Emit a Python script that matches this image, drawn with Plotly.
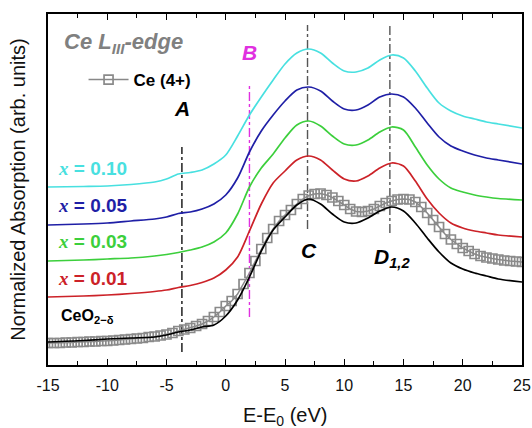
import numpy as np
import plotly.graph_objects as go

# ---------------- data ----------------
E = [-15, -12, -10, -8, -6, -5, -4, -3, -2, -1, 0, 1, 2, 3, 4, 5, 6, 7, 8, 9,
     10, 11, 12, 13, 14, 15, 16, 17, 18, 19, 20, 21, 22, 23, 25]

ceo2 = [0.23, 0.245, 0.26, 0.27, 0.28, 0.30, 0.33, 0.35, 0.38, 0.40, 0.49, 0.65, 0.88, 1.14,
        1.35, 1.48, 1.60, 1.66, 1.61, 1.51, 1.43, 1.42, 1.47, 1.54, 1.58, 1.54, 1.42, 1.27,
        1.13, 1.02, 0.96, 0.92, 0.89, 0.86, 0.83]
x001 = [0.68, 0.69, 0.70, 0.715, 0.735, 0.75, 0.775, 0.795, 0.825, 0.87, 0.95, 1.08, 1.34,
        1.61, 1.82, 1.94, 2.05, 2.09, 2.05, 1.95, 1.86, 1.84, 1.89, 1.97, 2.02, 1.99, 1.84,
        1.66, 1.52, 1.42, 1.37, 1.34, 1.32, 1.30, 1.28]
x003 = [1.04, 1.05, 1.06, 1.07, 1.09, 1.105, 1.125, 1.15, 1.18, 1.23, 1.32, 1.51, 1.78,
        1.97, 2.11, 2.27, 2.40, 2.44, 2.39, 2.29, 2.21, 2.20, 2.25, 2.33, 2.38, 2.35, 2.18,
        2.00, 1.86, 1.77, 1.73, 1.70, 1.68, 1.665, 1.65]
x005 = [1.40, 1.41, 1.42, 1.44, 1.46, 1.48, 1.515, 1.53, 1.56, 1.61, 1.70, 1.87, 2.13,
        2.34, 2.50, 2.64, 2.75, 2.78, 2.74, 2.64, 2.56, 2.55, 2.60, 2.68, 2.71, 2.68, 2.57,
        2.42, 2.28, 2.19, 2.14, 2.10, 2.07, 2.05, 2.01]
x010 = [1.78, 1.785, 1.79, 1.805, 1.83, 1.86, 1.91, 1.925, 1.95, 2.01, 2.10, 2.29, 2.50,
        2.68, 2.85, 3.01, 3.12, 3.16, 3.12, 3.02, 2.94, 2.93, 2.97, 3.05, 3.10, 3.07, 2.94,
        2.77, 2.62, 2.54, 2.49, 2.46, 2.43, 2.41, 2.37]

E_ref = [-15 + 0.5 * i for i in range(81)]
ce4 = [0.22, 0.22, 0.22, 0.225, 0.225, 0.23, 0.23, 0.235, 0.235, 0.24,
       0.24, 0.245, 0.25, 0.255, 0.26, 0.265, 0.27, 0.28, 0.285, 0.295,
       0.305, 0.32, 0.34, 0.355, 0.37, 0.39, 0.41, 0.44, 0.48, 0.53,
       0.59, 0.64, 0.71, 0.81, 0.92, 1.04, 1.16, 1.27, 1.36, 1.44,
       1.50, 1.55, 1.61, 1.66, 1.695, 1.71, 1.715, 1.70, 1.675, 1.64,
       1.60, 1.56, 1.535, 1.53, 1.54, 1.56, 1.59, 1.62, 1.64, 1.655,
       1.66, 1.655, 1.63, 1.58, 1.52, 1.45, 1.38, 1.31, 1.255, 1.21,
       1.17, 1.14, 1.11, 1.09, 1.075, 1.065, 1.055, 1.045, 1.04, 1.035, 1.03]

# reference markers (E position, y bottom, y top)
mark_names = ["A", "B", "C", "D"]
mark_E = [-3.7, 2.0, 6.9, 13.85]
mark_y0 = [0.13, 0.48, 1.36, 1.32]
mark_y1 = [2.18, 2.82, 3.40, 3.40]
mark_col = ["#111111", "#e030e0", "#555555", "#555555"]

x_ticks = [-15, -10, -5, 0, 5, 10, 15, 20, 25]
x_ticktext = ["-15", "-10", "-5", "0", "5", "10", "15", "20", "25"]

SANS = "Arial, 'Liberation Sans', sans-serif"

fig = go.Figure()

for nm, xe, y0, y1, c in zip(mark_names, mark_E, mark_y0, mark_y1, mark_col):
    fig.add_trace(go.Scatter(x=[xe, xe], y=[y0, y1], mode="lines",
                             line=dict(color=c, width=1.4, dash="dashdot"),
                             showlegend=False, hoverinfo="skip"))

fig.add_trace(go.Scatter(x=E_ref, y=ce4, mode="lines+markers", name="<b>Ce (4+)</b>",
                         line=dict(color="#888888", width=1.5),
                         marker=dict(symbol="square-open", size=9, color="#8a8a8a",
                                     line=dict(width=1.7)),
                         showlegend=True))

series = [(ceo2, "#000000"), (x001, "#cc2228"), (x003, "#3ccf3c"),
          (x005, "#1f1fa6"), (x010, "#48e0e0")]
for ys, c in series:
    fig.add_trace(go.Scatter(x=E, y=ys, mode="lines",
                             line=dict(color=c, width=1.7, shape="spline", smoothing=0.8),
                             showlegend=False, hoverinfo="skip"))

ann = []
def lab(x, y, text, color, size, xanchor="center"):
    ann.append(dict(x=x, y=y, xref="x", yref="y", text=text, showarrow=False,
                    font=dict(family=SANS, size=size, color=color),
                    xanchor=xanchor, yanchor="middle"))

XI = "<span style=\"font-family:'Liberation Serif','Times New Roman',serif\"><b><i>x</i></b></span>"
lab(-14.3, 1.97, XI + "<b> = 0.10</b>", "#48e0e0", 19, "left")
lab(-14.3, 1.60, XI + "<b> = 0.05</b>", "#1f1fa6", 19, "left")
lab(-14.3, 1.24, XI + "<b> = 0.03</b>", "#3ccf3c", 19, "left")
lab(-14.3, 0.87, XI + "<b> = 0.01</b>", "#cc2228", 19, "left")
lab(-14.1, 0.49, "<b>CeO<sub>2\u2212\u03b4</sub></b>", "#000000", 16, "left")
lab(-13.8, 3.22, "<b><i>Ce L<sub>III</sub>-edge</i></b>", "#808080", 22, "left")
lab(-3.7, 2.57, "<b><i>A</i></b>", "#000000", 21)
lab(2.0, 3.13, "<b><i>B</i></b>", "#e030e0", 21)
lab(7.0, 1.15, "<b><i>C</i></b>", "#000000", 21)
lab(14.0, 1.07, "<b><i>D<sub>1,2</sub></i></b>", "#000000", 21)
# x-axis title placed as a paper annotation (below the tick labels)
ann.append(dict(x=0.5, y=-0.146, xref="paper", yref="paper", text="E-E<sub>0</sub> (eV)",
                showarrow=False, font=dict(family=SANS, size=20, color="#111"),
                xanchor="center", yanchor="middle"))

fig.update_layout(
    width=532, height=428,
    margin=dict(l=48, r=10, t=14, b=63),
    paper_bgcolor="white", plot_bgcolor="white",
    annotations=ann,
    showlegend=True,
    legend=dict(x=0.075, y=0.812, xanchor="left", yanchor="middle",
                bgcolor="rgba(0,0,0,0)", font=dict(family=SANS, size=17, color="#000"),
                itemwidth=40, tracegroupgap=0),
    font=dict(family=SANS, color="#000"),
)

fig.update_xaxes(range=[-15, 25], tickvals=x_ticks, ticktext=x_ticktext,
                 ticks="inside", ticklen=6, tickwidth=1.3, tickcolor="#000",
                 minor=dict(tickvals=[-12.5, -7.5, -2.5, 2.5, 7.5, 12.5, 17.5, 22.5],
                            ticks="inside", ticklen=4, tickwidth=1.2, tickcolor="#000"),
                 showline=True, linecolor="#000", linewidth=1.6, mirror="ticks",
                 showgrid=False, zeroline=False, automargin=False,
                 ticklabelstandoff=5,
                 tickfont=dict(family=SANS, size=16, color="#111"))
fig.update_yaxes(range=[0, 3.51], showticklabels=False, ticks="",
                 showline=True, linecolor="#000", linewidth=1.6, mirror=True,
                 showgrid=False, zeroline=False, automargin=False,
                 title=dict(text="Normalized Absorption (arb. units)",
                            font=dict(family=SANS, size=20, color="#111"), standoff=15))

fig.write_html("out.html", config={"displayModeBar": False},
               post_script="document.body.style.margin='0';document.body.style.overflow='hidden';")
